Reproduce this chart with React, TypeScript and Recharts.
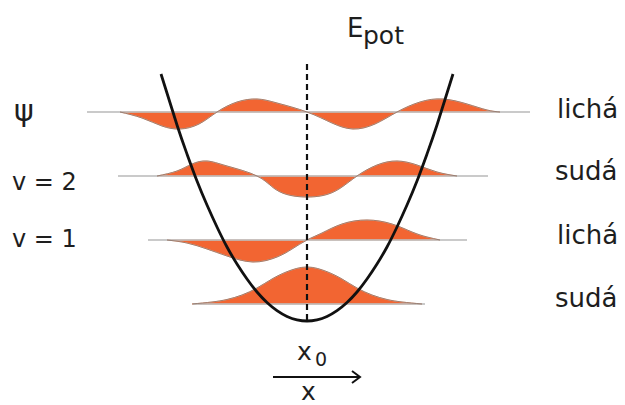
import React from 'react';
import { ComposedChart, Area, Line, XAxis, YAxis, ReferenceLine } from 'recharts';

// x measured from the equilibrium position x0; energies and amplitudes in the same arbitrary units
const potentialX = [-14.6, -13, -12, -11, -10, -9, -8, -7, -6, -5, -4, -3, -2, -1, 0, 1, 2, 3, 4, 5, 6, 7, 8, 9, 10, 11, 12, 13, 14.6];
const potentialE = [24.7, 19.6, 16.7, 14.0, 11.6, 9.4, 7.4, 5.7, 4.2, 2.9, 1.85, 1.04, 0.46, 0.12, 0, 0.12, 0.46, 1.04, 1.85, 2.9, 4.2, 5.7, 7.4, 9.4, 11.6, 14.0, 16.7, 19.6, 24.7];

// energy levels v = 0..3
const levelE = [1.7, 8.1, 14.5, 20.9];
const levelStart = [-11.4, -15.9, -18.9, -22.0];
const levelEnd = [11.8, 16.0, 18.1, 22.3];

// wave functions ψ (amplitude around each level)
const psi0X = [-11.5, -9.5, -8, -6.5, -5, -3.5, -2, 0, 2, 3.5, 5, 6.5, 8, 9.5, 11.5];
const psi0 = [0, 0.2, 0.45, 0.9, 1.6, 2.5, 3.23, 3.7, 3.23, 2.5, 1.6, 0.9, 0.45, 0.2, 0];
const psi1X = [-14, -12, -10, -8, -5.4, -3, -1.5, 0, 1.5, 3.5, 6, 8.5, 10.5, 12, 13.3];
const psi1 = [0, -0.3, -0.9, -1.6, -2.2, -1.7, -0.9, 0, 0.7, 1.6, 2.0, 1.6, 0.8, 0.3, 0];
const psi2X = [-15, -13, -11.5, -10, -8, -5, -3.2, -1.6, 0, 1.6, 3.2, 5, 7, 9, 11, 13, 15];
const psi2 = [0, 0.5, 1.2, 1.5, 1.0, 0, -1.3, -1.95, -2.1, -1.95, -1.3, 0, 1.1, 1.5, 1.1, 0.4, 0];
const psi3X = [-18.7, -16.5, -14.5, -12.7, -10.8, -9, -7, -5, -3, 0, 2.5, 4.6, 6.8, 9, 11.3, 13.6, 16, 18, 19.3];
const psi3 = [0, -0.6, -1.4, -1.7, -1.2, 0, 1.0, 1.3, 0.9, 0, -1.1, -1.7, -1.2, 0, 1.0, 1.3, 0.8, 0.2, 0];

const waveX = [psi0X, psi1X, psi2X, psi3X];
const waveAmp = [psi0, psi1, psi2, psi3];

const leftLabels = ['ψ', 'v = 2', 'v = 1'];
const parityLabels = ['sudá', 'lichá', 'sudá', 'lichá'];

// dashed x0 line and x-axis arrow (data units)
const x0LineTop = 25.9;
const arrowFrom = -3.4;
const arrowTo = 5.3;
const arrowE = -5.6;

const potentialData = potentialX.map((x, i) => ({ x, y: potentialE[i] }));
const waveData = waveX.map((xs, k) =>
  xs.map((x, i) => ({ x, r: [levelE[k], levelE[k] + waveAmp[k][i]], top: levelE[k] + waveAmp[k][i] }))
);
const baseData = levelE.map((e, k) => [
  { x: levelStart[k], y: e },
  { x: levelEnd[k], y: e },
]);

const ORANGE = '#f26532';
const FONT = '"DejaVu Sans", Verdana, sans-serif';
const TEXT = '#1e1e1e';

const ArrowShape = (props: any) => {
  const { x1, y1, x2, y2 } = props;
  return (
    <g>
      <line x1={x1} y1={y1} x2={x2} y2={y2} stroke="#111" strokeWidth={2} />
      <polyline points={`${x2 - 8},${y2 - 6} ${x2},${y2} ${x2 - 8},${y2 + 6}`} fill="none" stroke="#111" strokeWidth={2} />
    </g>
  );
};

export default function App() {
  return (
    <div style={{ position: 'absolute', left: 0, top: 0, width: 625, height: 405, background: '#fff' }}>
      <ComposedChart width={625} height={405} margin={{ top: 0, right: 0, bottom: 0, left: 0 }}>
        <XAxis type="number" dataKey="x" domain={[-30.7, 31.8]} allowDataOverflow hide />
        <YAxis type="number" domain={[-8.4, 32.1]} allowDataOverflow hide />
        {baseData.map((d, k) => (
          <Line key={`b${k}`} data={d} dataKey="y" stroke="#b8b8b8" strokeWidth={1.5} dot={false} activeDot={false} isAnimationActive={false} />
        ))}
        {waveData.map((d, k) => (
          <Area key={`a${k}`} data={d} dataKey="r" type="natural" fill={ORANGE} fillOpacity={1} stroke="#f6b79a" strokeWidth={1} dot={false} activeDot={false} isAnimationActive={false} />
        ))}
        {waveData.map((d, k) => (
          <Line key={`t${k}`} data={d} dataKey="top" type="natural" stroke="#8a6f62" strokeWidth={0.8} dot={false} activeDot={false} isAnimationActive={false} />
        ))}
        <Line data={potentialData} dataKey="y" type="natural" stroke="#111" strokeWidth={2.8} dot={false} activeDot={false} isAnimationActive={false} />
        <ReferenceLine segment={[{ x: 0, y: 0.1 }, { x: 0, y: x0LineTop }]} stroke="#111" strokeWidth={2.2} strokeDasharray="6 4" ifOverflow="visible" />
        <ReferenceLine segment={[{ x: arrowFrom, y: arrowE }, { x: arrowTo, y: arrowE }]} shape={ArrowShape} ifOverflow="visible" />
      </ComposedChart>
      <svg width={625} height={405} style={{ position: 'absolute', left: 0, top: 0, pointerEvents: 'none' }}>
        <g fontFamily={FONT} fill={TEXT}>
          <text x={347} y={37} fontSize={26}>E</text>
          <text x={363} y={44} fontSize={25}>pot</text>
          <text x={14} y={121} fontSize={30}>{leftLabels[0]}</text>
          <text x={12} y={190} fontSize={24}>{leftLabels[1]}</text>
          <text x={12} y={247} fontSize={24}>{leftLabels[2]}</text>
          <text x={557} y={118} fontSize={26}>{parityLabels[3]}</text>
          <text x={555} y={180} fontSize={26}>{parityLabels[2]}</text>
          <text x={557} y={244} fontSize={26}>{parityLabels[1]}</text>
          <text x={555} y={307} fontSize={26}>{parityLabels[0]}</text>
          <text x={297} y={360} fontSize={25}>x</text>
          <text x={315} y={366} fontSize={19}>0</text>
          <text x={301} y={400} fontSize={25}>x</text>
        </g>
      </svg>
    </div>
  );
}
